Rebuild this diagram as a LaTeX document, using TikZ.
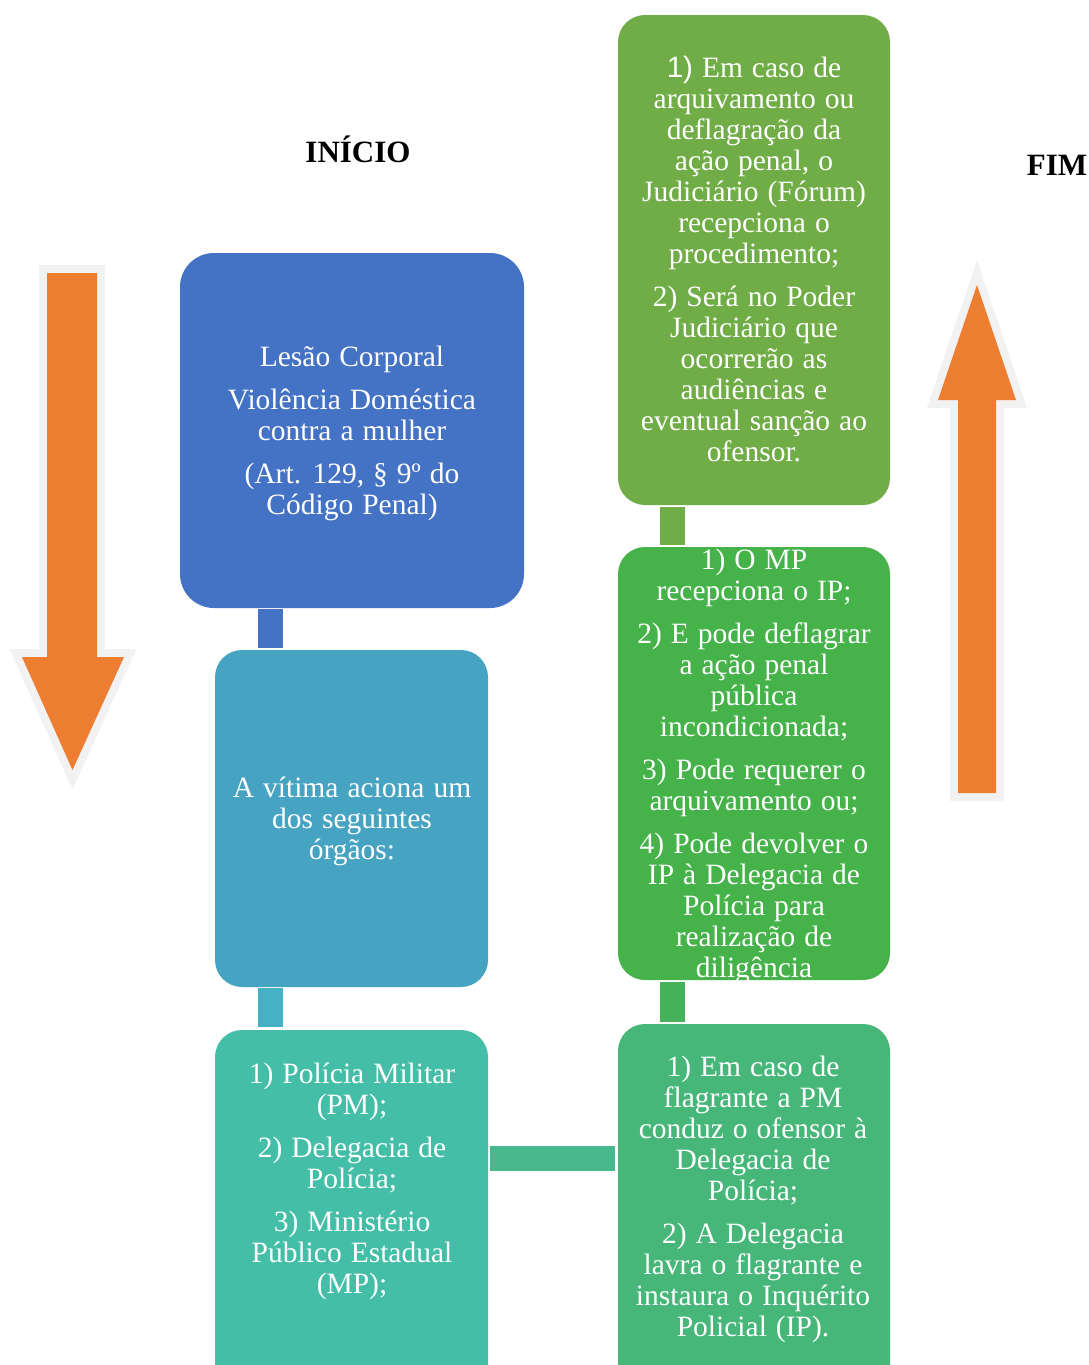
\documentclass[tikz,border=0pt]{standalone}
\usepackage{fontspec}
\setmainfont{Liberation Serif}
\newfontfamily\sanstxt{Liberation Sans}
\definecolor{cA}{HTML}{4472C4}
\definecolor{cB}{HTML}{46A3C1}
\definecolor{cBC}{HTML}{44B1C4}
\definecolor{cC}{HTML}{45BEA8}
\definecolor{cCD}{HTML}{47B98C}
\definecolor{cD}{HTML}{46B779}
\definecolor{cDE}{HTML}{45B25A}
\definecolor{cE}{HTML}{45B24A}
\definecolor{cF}{HTML}{70AD47}
\definecolor{arrfill}{HTML}{ED7D31}
\definecolor{arrline}{HTML}{F2F2F2}
\newcommand\widespaces{\spaceskip=9pt\relax}
\begin{document}
\begin{tikzpicture}[x=1pt,y=-1pt,
  box/.style={rectangle, rounded corners=27pt, inner sep=0pt, draw=none},
  txt/.style={text=white, align=center, inner sep=0pt,
    font=\fontsize{29.5}{31}\selectfont, execute at begin node=\widespaces},
  title/.style={font=\bfseries\fontsize{31}{36}\selectfont, inner sep=0pt},
  conn/.style={line width=25pt},
  arrowout/.style={draw=arrline, line width=16pt, line join=miter},
  arrowin/.style={fill=arrfill}]
\useasboundingbox (0,0) rectangle (1089,1365);

% big arrows
\draw[arrowout] (47,273) -- (97,273) -- (97,657) -- (124,657) -- (72.5,770) -- (22,657) -- (47,657) -- cycle;
\fill[arrowin] (47,273) -- (97,273) -- (97,657) -- (124,657) -- (72.5,770) -- (22,657) -- (47,657) -- cycle;
\draw[arrowout] (958,793) -- (996,793) -- (996,400) -- (1016,400) -- (977,285) -- (938,400) -- (958,400) -- cycle;
\fill[arrowin] (958,793) -- (996,793) -- (996,400) -- (1016,400) -- (977,285) -- (938,400) -- (958,400) -- cycle;

% titles
\node[title] (inicio) at (358,149) {INÍCIO};
\node[title] (fim) at (1057,165) {FIM};

% boxes
\node[box, fill=cA, rounded corners=34pt, minimum width=344pt, minimum height=355pt] (a) at (352,430.5) {};
\node[box, fill=cB, minimum width=273pt, minimum height=337pt] (b) at (351.5,818.5) {};
\node[box, fill=cC, minimum width=273pt, minimum height=370pt] (c) at (351.5,1215) {};
\node[box, fill=cD, minimum width=272pt, minimum height=376pt] (d) at (754,1212) {};
\node[box, fill=cE, minimum width=272pt, minimum height=433pt] (e) at (754,763.5) {};
\node[box, fill=cF, minimum width=272pt, minimum height=490pt] (f) at (754,260) {};

% connectors
\draw[conn, cA] ([xshift=-81.5pt,yshift=-1pt]a.south) -- ([xshift=-81pt,yshift=2pt]b.north);
\draw[conn, cBC] ([xshift=-81pt,yshift=-1pt]b.south) -- ([xshift=-81pt,yshift=3pt]c.north);
\draw[conn, cCD] ([xshift=2pt,yshift=57pt]c.east) -- ([xshift=-3pt,yshift=54pt]d.west);
\draw[conn, cDE] ([xshift=-81.5pt,yshift=2pt]d.north) -- ([xshift=-81.5pt,yshift=-2pt]e.south);
\draw[conn, cF] ([xshift=-81.5pt,yshift=2pt]e.north) -- ([xshift=-81.5pt,yshift=-2pt]f.south);

% texts
\node[txt] (ta) at (352,433) {Lesão Corporal\\[12pt]Violência Doméstica\\contra a mulher\\[12pt](Art. 129, § 9º do\\Código Penal)};
\node[txt] (tb) at (352,821) {A vítima aciona um\\dos seguintes\\órgãos:};
\node[txt] (tc) at (352,1181.5) {1) Polícia Militar\\(PM);\\[12pt]2) Delegacia de\\Polícia;\\[12pt]3) Ministério\\Público Estadual\\(MP);};
\node[txt] (td) at (753,1199.5) {1) Em caso de\\flagrante a PM\\conduz o ofensor à\\Delegacia de\\Polícia;\\[12pt]2) A Delegacia\\lavra o flagrante e\\instaura o Inquérito\\Policial (IP).};
\node[txt] (te) at (754,766) {1) O MP\\recepciona o IP;\\[12pt]2) E pode deflagrar\\a ação penal\\pública\\incondicionada;\\[12pt]3) Pode requerer o\\arquivamento ou;\\[12pt]4) Pode devolver o\\IP à Delegacia de\\Polícia para\\realização de\\diligência};
\node[txt] (tf) at (754,259.5) {{\sanstxt 1)} Em caso de\\arquivamento ou\\deflagração da\\ação penal, o\\Judiciário (Fórum)\\recepciona o\\procedimento;\\[12pt]2) Será no Poder\\Judiciário que\\ocorrerão as\\audiências e\\eventual sanção ao\\ofensor.};
\end{tikzpicture}
\end{document}
